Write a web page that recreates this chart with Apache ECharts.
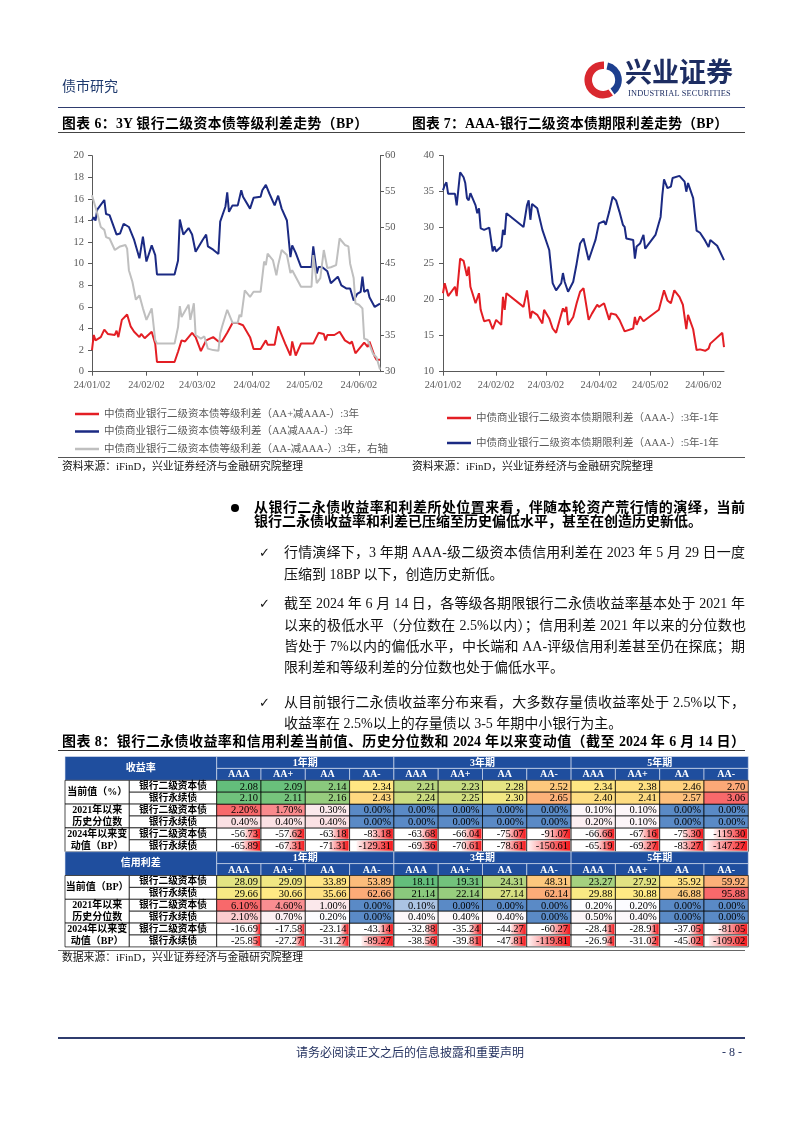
<!DOCTYPE html>
<html><head><meta charset="utf-8">
<script src="https://cdn.jsdelivr.net/npm/echarts@6/dist/echarts.min.js"></script>
<style>
html,body{margin:0;padding:0;background:#fff;}
#page{position:relative;width:802px;height:1133px;overflow:hidden;background:#fff;}
#chart{position:absolute;left:0;top:0;width:802px;height:1133px;}
.p{position:absolute;line-height:1;font-family:"Liberation Serif","Noto Sans CJK SC",serif;color:#111;white-space:normal;}
.n{white-space:nowrap;}
.j{text-align:justify;text-align-last:justify;}
.b{font-weight:700;}
.hl{position:absolute;height:0;}
</style></head><body>
<div id="page">
<div id="chart"></div>

<!-- header -->
<div class="p n" style="left:62px;top:78px;font-size:14px;color:#1f3a6e;font-family:'Noto Sans CJK SC'">债市研究</div>
<svg style="position:absolute;left:582px;top:60px" width="40" height="40" viewBox="0 0 40 40">
  <path d="M22 1.5 A18.5 18.5 0 1 0 31 35.5 L26.5 29.5 A11 11 0 1 1 22 9 Z" fill="#d9282f"/>
  <path d="M24.5 9.5 A10.5 10.5 0 0 1 28.5 28.5 L32.5 34.5 A18 18 0 0 0 26 2.5 Z" fill="#1d3f8f"/>
</svg>
<div class="p n b" style="left:625px;top:57px;font-size:27px;color:#1d2d62;font-family:'Noto Sans CJK SC'">兴业证券</div>
<div class="p n" style="left:628px;top:90px;font-size:8.3px;color:#1d2d62;letter-spacing:0.2px">INDUSTRIAL SECURITIES</div>
<div class="hl" style="left:58px;top:107px;width:687px;border-top:1.5px solid #2f3c6e"></div>

<!-- chart titles -->
<div class="p j b" style="left:62px;top:117px;width:306px;font-size:13.8px;color:#000">图表 6：3Y 银行二级资本债等级利差走势（BP）</div>
<div class="p j b" style="left:412px;top:117px;width:316px;font-size:13.8px;color:#000">图表 7：AAA-银行二级资本债期限利差走势（BP）</div>
<div class="hl" style="left:58px;top:132px;width:687px;border-top:1px solid #444"></div>

<!-- sources -->
<div class="hl" style="left:58px;top:457px;width:687px;border-top:1px solid #555"></div>
<div class="p n" style="left:62px;top:460.5px;font-size:10.8px;color:#111">资料来源：iFinD，兴业证券经济与金融研究院整理</div>
<div class="p n" style="left:412px;top:460.5px;font-size:10.8px;color:#111">资料来源：iFinD，兴业证券经济与金融研究院整理</div>

<!-- paragraphs -->
<div style="position:absolute;left:231px;top:504px;width:8px;height:8px;border-radius:50%;background:#000"></div>
<div class="p j b" style="left:254px;top:501px;width:491px;font-size:14px;color:#000">从银行二永债收益率和利差所处位置来看，伴随本轮资产荒行情的演绎，当前</div>
<div class="p n b" style="left:254px;top:515px;font-size:14px;color:#000">银行二永债收益率和利差已压缩至历史偏低水平，甚至在创造历史新低。</div>

<div class="p n" style="left:259px;top:546px;font-size:13px;font-family:'DejaVu Sans'">✓</div>
<div class="p j" style="left:284px;top:546px;width:461px;font-size:14px">行情演绎下，3 年期 AAA-级二级资本债信用利差在 2023 年 5 月 29 日一度</div>
<div class="p n" style="left:284px;top:568px;font-size:14px">压缩到 18BP 以下，创造历史新低。</div>

<div class="p n" style="left:259px;top:597px;font-size:13px;font-family:'DejaVu Sans'">✓</div>
<div class="p j" style="left:284px;top:597px;width:461px;font-size:14px">截至 2024 年 6 月 14 日，各等级各期限银行二永债收益率基本处于 2021 年</div>
<div class="p j" style="left:284px;top:619px;width:462px;font-size:14px">以来的极低水平（分位数在 2.5%以内）；信用利差 2021 年以来的分位数也</div>
<div class="p j" style="left:284px;top:640px;width:461px;font-size:14px">皆处于 7%以内的偏低水平，中长端和 AA-评级信用利差甚至仍在探底；期</div>
<div class="p n" style="left:284px;top:661px;font-size:14px">限利差和等级利差的分位数也处于偏低水平。</div>

<div class="p n" style="left:259px;top:696px;font-size:13px;font-family:'DejaVu Sans'">✓</div>
<div class="p j" style="left:284px;top:696px;width:461px;font-size:14px">从目前银行二永债收益率分布来看，大多数存量债收益率处于 2.5%以下，</div>
<div class="p n" style="left:284px;top:717px;font-size:14px">收益率在 2.5%以上的存量债以 3-5 年期中小银行为主。</div>

<!-- table title -->
<div class="p j b" style="left:62px;top:734.5px;width:683px;font-size:14px;color:#000">图表 8：银行二永债收益率和信用利差当前值、历史分位数和 2024 年以来变动值（截至 2024 年 6 月 14 日）</div>
<div class="hl" style="left:58px;top:750px;width:687px;border-top:1px solid #333"></div>
<div class="hl" style="left:58px;top:950px;width:687px;border-top:1.5px solid #666"></div>
<div class="p n" style="left:62px;top:951.5px;font-size:10.8px;color:#111">数据来源：iFinD，兴业证券经济与金融研究院整理</div>

<!-- footer -->
<div class="hl" style="left:58px;top:1037px;width:687px;border-top:2px solid #2f3c6e"></div>
<div class="p n" style="left:296px;top:1046px;font-size:12px;color:#1f2d5c;font-family:'Noto Sans CJK SC'">请务必阅读正文之后的信息披露和重要声明</div>
<div class="p n" style="left:722px;top:1046px;font-size:12px;color:#1f2d5c">- 8 -</div>
</div>

<script>
// ---------------- DATA ----------------
const YEAR = 2024;
const xTickDates = ['2024-01-02','2024-02-02','2024-03-02','2024-04-02','2024-05-02','2024-06-02'];
const xMin = '2024-01-02', xMax = '2024-06-14';

const name6a = '中债商业银行二级资本债等级利差（AA+减AAA-）:3年';
const name6b = '中债商业银行二级资本债等级利差（AA减AAA-）:3年';
const name6c = '中债商业银行二级资本债等级利差（AA-减AAA-）:3年，右轴';
const name7a = '中债商业银行二级资本债期限利差（AAA-）:3年-1年';
const name7b = '中债商业银行二级资本债期限利差（AAA-）:5年-1年';

// Chart 6: AA+ - AAA- (left axis)
const spreadAAplus = [['01-02',2.0],['01-03',3.4],['01-04',2.9],['01-07',3.2],['01-09',3.9],['01-11',3.5],['01-15',3.4],['01-16',3.8],['01-17',3.2],['01-19',4.8],['01-22',5.3],['01-24',4.2],['01-26',3.7],['01-29',3.2],['01-30',3.5],['02-01',3.1],['02-05',3.7],['02-07',2.6],['02-08',0.9],['02-18',0.9],['02-20',1.85],['02-21',2.0],['02-22',2.9],['02-24',2.8],['02-26',3.2],['02-28',3.6],['03-01',3.2],['03-04',1.9],['03-07',2.9],['03-11',3.2],['03-14',2.8],['03-16',2.8],['03-19',3.6],['03-22',4.5],['03-25',4.5],['03-28',4.3],['04-01',3.2],['04-03',2.1],['04-07',2.1],['04-10',2.9],['04-11',2.5],['04-15',2.5],['04-17',4.2],['04-21',2.6],['04-24',1.5],['04-25',2.8],['04-27',1.5],['04-30',2.6],['05-07',2.6],['05-10',3.6],['05-13',3.5],['05-14',2.9],['05-15',3.4],['05-19',3.4],['05-22',3.7],['05-25',2.9],['05-28',2.6],['05-29',2.8],['05-31',1.7],['06-03',2.3],['06-05',2.7],['06-07',2.3],['06-08',2.8],['06-11',1.4],['06-12',1.1],['06-14',1.1]];
// Chart 6: AA - AAA- (left axis)
const spreadAA = [['01-02',14.0],['01-03',14.3],['01-04',14.0],['01-05',15.0],['01-09',15.9],['01-10',14.6],['01-12',14.5],['01-16',12.7],['01-18',12.8],['01-20',13.7],['01-23',13.4],['01-26',12.2],['01-29',10.5],['01-31',12.5],['02-02',10.2],['02-05',11.7],['02-07',10.8],['02-08',9.0],['02-18',9.0],['02-20',10.3],['02-21',14.1],['02-23',12.7],['02-26',13.3],['02-28',12.7],['03-01',11.1],['03-05',12.2],['03-07',12.7],['03-08',11.6],['03-11',11.3],['03-14',10.9],['03-15',13.9],['03-18',15.3],['03-19',16.6],['03-20',14.8],['03-22',15.4],['03-25',15.4],['03-27',16.8],['03-28',16.2],['04-01',15.1],['04-03',16.1],['04-07',16.2],['04-08',16.8],['04-10',17.3],['04-12',16.5],['04-15',15.4],['04-17',16.3],['04-19',15.1],['04-22',14.0],['04-24',10.6],['04-25',11.7],['04-27',11.0],['04-30',9.7],['05-06',9.7],['05-07',11.6],['05-09',9.1],['05-10',9.7],['05-12',9.7],['05-15',9.3],['05-17',8.2],['05-21',8.8],['05-23',8.0],['05-26',7.7],['05-28',7.7],['05-30',6.6],['06-01',7.2],['06-03',7.4],['06-04',8.8],['06-05',7.4],['06-07',7.6],['06-08',6.9],['06-11',6.0],['06-12',6.0],['06-14',6.3]];
// Chart 6: AA- - AAA- (right axis)
const spreadAAminus = [['01-02',54.5],['01-03',54.3],['01-05',52.0],['01-07',50.1],['01-09',49.7],['01-10',48.7],['01-12',48.5],['01-15',46.9],['01-18',47.4],['01-21',47.6],['01-22',47.1],['01-23',44.1],['01-25',42.5],['01-27',40.0],['01-29',40.6],['01-31',38.8],['02-02',37.2],['02-05',38.8],['02-07',34.4],['02-08',33.9],['02-18',33.9],['02-20',36.2],['02-21',39.1],['02-22',37.6],['02-26',39.3],['02-27',37.2],['02-29',39.5],['03-01',35.1],['03-04',34.6],['03-06',34.9],['03-08',33.2],['03-11',33.0],['03-14',32.9],['03-15',35.3],['03-16',36.2],['03-19',38.6],['03-22',36.8],['03-25',36.8],['03-26',37.9],['03-27',37.6],['03-29',41.3],['04-01',40.4],['04-03',41.1],['04-07',41.1],['04-09',45.3],['04-10',44.8],['04-11',46.4],['04-14',45.5],['04-16',43.4],['04-17',44.8],['04-19',46.9],['04-22',46.2],['04-24',43.7],['04-25',44.1],['04-30',41.8],['05-06',41.8],['05-07',46.2],['05-09',42.3],['05-11',43.0],['05-13',46.9],['05-15',44.4],['05-17',44.5],['05-20',44.8],['05-22',48.5],['05-25',47.6],['05-27',47.4],['05-28',45.0],['05-30',43.0],['05-31',39.5],['06-02',39.3],['06-04',38.8],['06-05',34.6],['06-07',34.4],['06-10',32.5],['06-12',32.0],['06-14',30.3]];
// Chart 7: 3Y-1Y
const term3y1y = [['01-02',20.9],['01-03',22.3],['01-04',22.4],['01-05',20.5],['01-09',21.8],['01-10',20.5],['01-12',25.7],['01-14',25.4],['01-16',23.3],['01-17',24.6],['01-18',21.8],['01-21',19.5],['01-23',20.9],['01-24',18.6],['01-26',17.0],['01-29',17.2],['01-31',15.9],['02-02',17.2],['02-05',16.5],['02-06',20.4],['02-07',18.6],['02-08',20.9],['02-18',19.0],['02-20',21.3],['02-21',19.5],['02-22',17.4],['02-23',18.4],['02-26',17.9],['02-29',16.7],['03-01',18.6],['03-04',17.4],['03-06',16.0],['03-08',15.4],['03-12',18.8],['03-13',18.3],['03-14',19.0],['03-15',16.5],['03-18',17.6],['03-19',17.4],['03-20',19.5],['03-22',21.1],['03-24',21.6],['03-27',17.2],['03-29',18.1],['04-01',19.3],['04-02',19.0],['04-05',19.5],['04-08',17.2],['04-09',18.1],['04-12',17.9],['04-14',17.2],['04-17',15.6],['04-22',16.0],['04-23',17.6],['04-24',16.5],['04-26',17.7],['04-28',17.0],['05-07',18.6],['05-09',20.4],['05-10',21.3],['05-12',19.9],['05-14',19.5],['05-16',21.3],['05-19',20.4],['05-21',19.3],['05-23',15.9],['05-24',17.9],['05-27',15.9],['05-29',13.0],['05-31',13.1],['06-03',12.9],['06-05',13.2],['06-06',13.9],['06-13',15.4],['06-14',13.4]];
// Chart 7: 5Y-1Y
const term5y1y = [['01-02',35.2],['01-03',35.9],['01-04',36.3],['01-05',34.7],['01-09',34.7],['01-10',33.1],['01-11',32.9],['01-12',37.7],['01-14',37.0],['01-15',36.2],['01-16',34.1],['01-17',33.8],['01-18',34.8],['01-21',33.1],['01-22',32.0],['01-23',32.7],['01-24',29.9],['01-26',29.7],['01-29',30.0],['01-31',26.7],['02-01',27.4],['02-02',26.7],['02-05',27.4],['02-06',29.7],['02-07',29.0],['02-08',32.0],['02-18',30.1],['02-20',33.1],['02-21',33.8],['02-22',31.1],['02-23',33.3],['02-26',32.7],['02-29',29.7],['03-01',29.8],['03-04',26.9],['03-06',22.3],['03-08',21.3],['03-11',22.3],['03-12',23.7],['03-13',22.5],['03-14',22.3],['03-15',21.1],['03-18',22.5],['03-19',22.3],['03-20',25.0],['03-22',27.8],['03-24',28.5],['03-27',25.5],['03-29',26.9],['03-31',28.3],['04-02',30.6],['04-05',30.9],['04-06',30.4],['04-08',32.2],['04-10',34.3],['04-12',33.8],['04-14',32.2],['04-16',30.4],['04-17',30.1],['04-18',28.5],['04-22',28.3],['04-23',25.7],['04-24',27.4],['04-26',27.8],['04-28',29.0],['04-29',27.1],['05-05',29.0],['05-08',31.5],['05-09',34.5],['05-10',36.7],['05-12',35.5],['05-14',35.7],['05-15',36.9],['05-19',37.2],['05-20',37.3],['05-22',36.4],['05-23',35.0],['05-24',36.2],['05-27',34.1],['05-29',29.6],['05-31',29.3],['06-03',28.2],['06-04',28.1],['06-05',27.3],['06-06',28.3],['06-10',27.5],['06-11',27.0],['06-12',27.1],['06-14',25.5]];

// Table
const periods = ['1年期','3年期','5年期'];
const ratings = ['AAA','AA+','AA','AA-'];
const bondTypes = ['银行二级资本债','银行永续债'];
const yieldCur = [[2.08,2.09,2.14,2.34, 2.21,2.23,2.28,2.52, 2.34,2.38,2.46,2.70],
                  [2.10,2.11,2.16,2.43, 2.24,2.25,2.30,2.65, 2.40,2.41,2.57,3.06]];
const yieldPct = [[2.20,1.70,0.30,0.00, 0.00,0.00,0.00,0.00, 0.10,0.10,0.00,0.00],
                  [0.40,0.40,0.40,0.00, 0.00,0.00,0.00,0.00, 0.20,0.10,0.00,0.00]];
const yieldChg = [[-56.73,-57.62,-63.18,-83.18, -63.68,-66.04,-75.07,-91.07, -66.66,-67.16,-75.30,-119.30],
                  [-65.89,-67.31,-71.31,-129.31, -69.36,-70.61,-78.61,-150.61, -65.19,-69.27,-83.27,-147.27]];
const spreadCur = [[28.09,29.09,33.89,53.89, 18.11,19.31,24.31,48.31, 23.27,27.92,35.92,59.92],
                   [29.66,30.66,35.66,62.66, 21.14,22.14,27.14,62.14, 29.88,30.88,46.88,95.88]];
const spreadPct = [[6.10,4.60,1.00,0.00, 0.10,0.00,0.00,0.00, 0.20,0.20,0.00,0.00],
                   [2.10,0.70,0.20,0.00, 0.40,0.40,0.40,0.00, 0.50,0.40,0.00,0.00]];
const spreadChg = [[-16.69,-17.58,-23.14,-43.14, -32.88,-35.24,-44.27,-60.27, -28.41,-28.91,-37.05,-81.05],
                   [-25.85,-27.27,-31.27,-89.27, -38.56,-39.81,-47.81,-119.81, -26.94,-31.02,-45.02,-109.02]];

// ---------------- helpers ----------------
const T = s => { const p = s.split('-').map(Number); return new Date(p[0], p[1]-1, p[2]).getTime(); };
const toSeries = arr => arr.map(([d, v]) => [T(YEAR + '-' + d), v]);
const pad = n => String(n).padStart(2, '0');
const fmtDate = v => { const d = new Date(v); return pad(d.getFullYear() % 100) + '/' + pad(d.getMonth() + 1) + '/' + pad(d.getDate()); };
const FONT = '"Liberation Serif","Noto Sans CJK SC",serif';
const AX = '#595959';
const RED = '#E31E24', NAVY = '#1B2A83', GRAY = '#BFBFBF';

function dateAxis(gi) {
  const ticks = xTickDates.map(T);
  return {type:'value', gridIndex:gi, min:T(xMin), max:T(xMax), scale:true,
    axisLine:{show:true, onZero:false, lineStyle:{color:AX, width:1}},
    axisTick:{show:true, customValues:ticks, length:4, lineStyle:{color:AX}},
    axisLabel:{show:true, customValues:ticks, formatter:fmtDate, color:AX, fontSize:10.3, fontFamily:FONT, margin:8, showMinLabel:true, showMaxLabel:true},
    splitLine:{show:false}};
}
function valAxis(gi, min, max, interval, pos, margin) {
  return {type:'value', gridIndex:gi, min, max, interval, position:pos,
    axisLine:{show:true, lineStyle:{color:AX, width:1}},
    axisTick:{show:true, length:4, lineStyle:{color:AX}},
    axisLabel:{color:AX, fontSize:10.5, fontFamily:FONT, margin:margin},
    splitLine:{show:false}};
}

// colour scales (Excel-like conditional formatting)
function rgb(h){return [1,3,5].map(i=>parseInt(h.slice(i,i+2),16));}
function mix(a,b,t){const A=rgb(a),B=rgb(b);return 'rgb('+A.map((v,i)=>Math.round(v+(B[i]-v)*t)).join(',')+')';}
function median(a){const s=[...a].sort((x,y)=>x-y),n=s.length;return n%2?s[(n-1)/2]:(s[n/2-1]+s[n/2])/2;}
function scale3(v,lo,mid,hi,c0,c1,c2){
  if(v<=mid){ if(mid===lo) return c0; return mix(c0,c1,(v-lo)/(mid-lo)); }
  return mix(c1,c2,(v-mid)/(hi-mid));
}
const GYR = ['#63BE7B','#FFEB84','#F8696B'];
const BWR = ['#5A8AC6','#FCFCFF','#F8696B'];
const HDR = '#1F4E9E';

// ---------------- table cells ----------------
const sections = [
  {corner:'收益率', curLabel:'当前值（%）', cur:yieldCur, pct:yieldPct, chg:yieldChg},
  {corner:'信用利差', curLabel:'当前值（BP）', cur:spreadCur, pct:spreadPct, chg:spreadChg}
];
const cells = [];
sections.forEach((s, si) => {
  const r0 = si * 8;
  const curAll = s.cur.flat(), pctAll = s.pct.flat(), chgAll = s.chg.flat();
  const curSc = [Math.min(...curAll), median(curAll), Math.max(...curAll)];
  const pctSc = [Math.min(...pctAll), median(pctAll), Math.max(...pctAll)];
  const chgMax = Math.max(...chgAll.map(Math.abs));
  cells.push({kind:'corner', col:0, row:r0, text:s.corner});
  periods.forEach((p, pi) => cells.push({kind:'hdr', col:pi*4, row:r0, cs:4, text:p}));
  for (let j = 0; j < 12; j++) cells.push({kind:'hdr', col:j, row:r0+1, text:ratings[j%4]});
  cells.push({kind:'lab1', col:0, row:r0+2, text:s.curLabel});
  cells.push({kind:'lab1', col:0, row:r0+4, text:'2021年以来\n历史分位数'});
  cells.push({kind:'lab1', col:0, row:r0+6, text:'2024年以来变\n动值（BP）'});
  for (let k = 0; k < 6; k++) cells.push({kind:'lab2', col:0, row:r0+2+k, text:bondTypes[k%2]});
  for (let b = 0; b < 2; b++) for (let j = 0; j < 12; j++) {
    const cv = s.cur[b][j], pv = s.pct[b][j], dv = s.chg[b][j];
    cells.push({kind:'val', col:j, row:r0+2+b, text:cv.toFixed(2), fill:scale3(cv, curSc[0], curSc[1], curSc[2], ...GYR)});
    cells.push({kind:'val', col:j, row:r0+4+b, text:pv.toFixed(2)+'%', fill:scale3(pv, pctSc[0], pctSc[1], pctSc[2], ...BWR)});
    cells.push({kind:'bar', col:j, row:r0+6+b, text:dv.toFixed(2), frac:Math.abs(dv)/chgMax});
  }
});

const L1W = 64.3, L2W = 87.4;
function renderCell(params, api) {
  const c = cells[api.value(2)];
  const sz = api.size([1, 1]);
  const bw = sz[0], bh = sz[1];
  const p = api.coord([c.col, c.row]);
  const gx = api.coord([0, 0])[0] - bw / 2;
  let x0 = p[0] - bw / 2, y0 = p[1] - bh / 2, w = bw * (c.cs || 1), h = bh;
  const ch = [];
  const txt = (t, x, y, o) => ch.push({type:'text', z2:10, style:Object.assign({text:t, x, y, align:'center', verticalAlign:'middle', fontSize:10, fontFamily:FONT, fill:'#000'}, o||{})});
  if (c.kind === 'corner') {
    x0 = gx - L1W - L2W; w = L1W + L2W; h = bh * 2;
    ch.push({type:'rect', shape:{x:x0, y:y0, width:w, height:h}, style:{fill:HDR, stroke:'#dfe6f3', lineWidth:0.6}});
    txt(c.text, x0 + w/2, y0 + h/2, {fill:'#fff', fontWeight:'bold', fontSize:10});
  } else if (c.kind === 'hdr') {
    ch.push({type:'rect', shape:{x:x0, y:y0, width:w, height:h}, style:{fill:HDR, stroke:'#dfe6f3', lineWidth:0.6}});
    txt(c.text, x0 + w/2, y0 + h/2 + 0.5, {fill:'#fff', fontWeight:'bold', fontSize:10});
  } else if (c.kind === 'lab1') {
    x0 = gx - L1W - L2W; w = L1W; h = bh * 2;
    ch.push({type:'rect', shape:{x:x0, y:y0, width:w, height:h}, style:{fill:'#fff', stroke:'#000', lineWidth:0.7}});
    txt(c.text, x0 + w/2, y0 + h/2 + 0.5, {fontWeight:'bold', fontSize:10, lineHeight:bh});
  } else if (c.kind === 'lab2') {
    x0 = gx - L2W; w = L2W;
    ch.push({type:'rect', shape:{x:x0, y:y0, width:w, height:h}, style:{fill:'#fff', stroke:'#000', lineWidth:0.7}});
    txt(c.text, x0 + w/2, y0 + h/2 + 0.5, {fontWeight:'bold', fontSize:9.7});
  } else if (c.kind === 'val') {
    ch.push({type:'rect', shape:{x:x0, y:y0, width:w, height:h}, style:{fill:c.fill, stroke:'#000', lineWidth:0.7}});
    txt(c.text, x0 + w - 3, y0 + h/2 + 0.5, {align:'right', fontSize:10.5, fontFamily:'"Liberation Serif",serif'});
  } else if (c.kind === 'bar') {
    ch.push({type:'rect', shape:{x:x0, y:y0, width:w, height:h}, style:{fill:'#fff', stroke:'#000', lineWidth:0.7}});
    const bl = (w - 2) * c.frac;
    ch.push({type:'rect', shape:{x:x0 + w - 1 - bl, y:y0 + 1, width:bl, height:h - 2},
      style:{fill:new echarts.graphic.LinearGradient(0, 0, 1, 0, [{offset:0, color:'#fff3f3'}, {offset:1, color:'#f5161a'}])}});
    txt(c.text, x0 + w - 3, y0 + h/2 + 0.5, {align:'right', fontSize:10.5, fontFamily:'"Liberation Serif",serif'});
  }
  return {type:'group', children:ch};
}

// ---------------- chart ----------------
const chart = echarts.init(document.getElementById('chart'), null, {renderer:'canvas'});
const legendText = {fontSize:10.5, color:'#595959', fontFamily:FONT, lineHeight:12};
const lineSeries = (name, data, color, xi, yi) => ({name, type:'line', xAxisIndex:xi, yAxisIndex:yi, data:toSeries(data),
  symbol:'none', lineStyle:{color, width:2}, itemStyle:{color}, emphasis:{disabled:true}, z:3});

chart.setOption({
  animation:false,
  backgroundColor:'transparent',
  grid:[
    {left:92, top:155.7, width:288, height:216},
    {left:443, top:155.7, width:281, height:216},
    {left:216.7, top:756.5, width:531.6, height:190.4}
  ],
  legend:[
    {data:[name6a, name6b, name6c], orient:'vertical', left:75, top:408, padding:0, itemWidth:24, itemHeight:2.5, itemGap:5.5, icon:'rect', textStyle:legendText, selectedMode:false},
    {data:[name7a, name7b], orient:'vertical', left:447, top:412, padding:0, itemWidth:24, itemHeight:2.5, itemGap:13, icon:'rect', textStyle:legendText, selectedMode:false}
  ],
  xAxis:[ dateAxis(0), dateAxis(1),
    {type:'category', gridIndex:2, data:periods.flatMap(p => ratings.map(r => p + r)), show:false} ],
  yAxis:[ valAxis(0, 0, 20, 2, 'left', 8), valAxis(0, 30, 60, 5, 'right', 5), valAxis(1, 10, 40, 5, 'left', 9),
    {type:'category', gridIndex:2, data:Array.from({length:16}, (_, i) => 'r' + i), inverse:true, show:false} ],
  series:[
    lineSeries(name6a, spreadAAplus, RED, 0, 0),
    lineSeries(name6b, spreadAA, NAVY, 0, 0),
    lineSeries(name6c, spreadAAminus, GRAY, 0, 1),
    lineSeries(name7a, term3y1y, RED, 1, 2),
    lineSeries(name7b, term5y1y, NAVY, 1, 2),
    {type:'custom', xAxisIndex:2, yAxisIndex:3, clip:false, renderItem:renderCell,
      data:cells.map((c, i) => [c.col, c.row, i]), silent:true}
  ]
});
</script>
</body></html>
